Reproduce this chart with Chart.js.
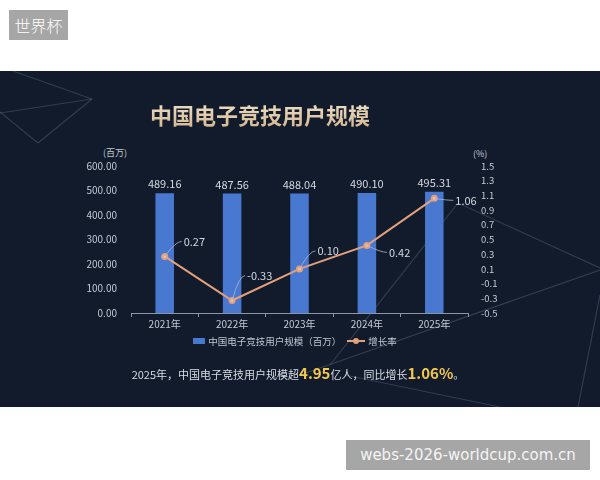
<!DOCTYPE html>
<html>
<head>
<meta charset="utf-8">
<script src="https://cdn.jsdelivr.net/npm/chart.js@4"></script>
<style>
  body { margin: 0; width: 600px; height: 480px; background: #fff; position: relative; overflow: hidden;
         font-family: "Noto Sans CJK SC", "Noto Sans", sans-serif; }
  .tag { position: absolute; left: 9px; top: 10px; width: 59px; height: 30px; background: #a6a6a6;
         color: #fff; font-size: 16px; line-height: 30px; text-align: center; font-weight: 300; }
  .panel { position: absolute; left: 0; top: 71px; width: 600px; height: 336px; background: #121b2c; }
  .deco { position: absolute; left: 0; top: 0; }
  .title { position: absolute; left: 0; width: 520px; top: 98px; text-align: center; font-size: 22px; font-weight: bold;
           background: linear-gradient(180deg, #f3e6cf 0%, #d2b48c 100%); -webkit-background-clip: text;
           background-clip: text; color: transparent; }
  .unit { position: absolute; font-size: 9px; color: #c4cad4; }
  #chart { position: absolute; left: 0; top: 140px; }
  .legend { position: absolute; left: 0; width: 590px; top: 333px; text-align: center; font-size: 9.5px; color: #c0c6d0; }
  .legend span { display: inline-block; vertical-align: middle; }
  .lg-bar { width: 12px; height: 6px; background: #4878cf; margin-right: 3px; }
  .lg-line { width: 18px; height: 2px; background: #e3a07c; position: relative; margin: 0 3px 0 6px; }
  .lg-line::after { content: ""; position: absolute; left: 6px; top: -2px; width: 6px; height: 6px; border-radius: 3px; background: #e3a07c; }
  .caption { position: absolute; left: 0; width: 596px; top: 362px; text-align: center; font-size: 11px; color: #d8dce4; }
  .caption b { color: #f2c94c; font-size: 15px; }
  .mark { position: absolute; left: 346px; top: 440px; width: 244px; height: 30px; background: #a6a6a6;
          color: #f4f4f4; font-family: "DejaVu Sans", sans-serif; font-size: 15px; line-height: 30px; text-align: center; }
</style>
</head>
<body>
<div class="tag">世界杯</div>
<div class="panel"></div>
<svg class="deco" width="600" height="480">
  <g stroke="rgba(120,135,160,0.3)" stroke-width="1.2" fill="none">
    <line x1="13" y1="71" x2="92" y2="99"/>
    <line x1="0" y1="113" x2="92" y2="99"/>
    <line x1="92" y1="99" x2="38" y2="143"/>
    <line x1="38" y1="143" x2="0" y2="112"/>
    <line x1="330" y1="365" x2="458" y2="203"/>
    <line x1="458" y1="203" x2="600" y2="268"/>
    <line x1="300" y1="375" x2="600" y2="270"/>
    <line x1="345" y1="375" x2="500" y2="407"/>
    <line x1="600" y1="295" x2="578" y2="407"/>
  </g>
</svg>
<div class="title">中国电子竞技用户规模</div>
<div class="unit" style="left:103px; top:146px;">(百万)</div>
<div class="unit" style="left:473px; top:147px;">(%)</div>
<canvas id="chart" width="600" height="200"></canvas>
<div class="legend"><span class="lg-bar"></span><span>中国电子竞技用户规模（百万）</span><span class="lg-line"></span><span>增长率</span></div>
<div class="caption">2025年，中国电子竞技用户规模超<b>4.95</b>亿人，同比增长<b>1.06%</b>。</div>
<div class="mark">webs-2026-worldcup.com.cn</div>

<script>
// dados do gráfico
const years = ['2021年', '2022年', '2023年', '2024年', '2025年'];
const users = [489.16, 487.56, 488.04, 490.10, 495.31];
const growth = [0.27, -0.33, 0.10, 0.42, 1.06];

// deslocamento dos rótulos da linha (estilo)
const growthLabelShift = [[19, -15], [15, -25], [18, -18], [22, 7], [21, 2]];

const tickColor = '#c4cad4';
const tickFont = { family: '"Noto Sans CJK SC", sans-serif', size: 10 };

// plugin para desenhar os rótulos
const valueLabels = {
  id: 'valueLabels',
  afterDatasetsDraw(chart) {
    const ctx = chart.ctx;
    ctx.save();
    ctx.font = '11px "Noto Sans CJK SC", sans-serif';
    ctx.fillStyle = '#d4d8e0';
    ctx.textAlign = 'center';
    ctx.textBaseline = 'middle';
    chart.getDatasetMeta(0).data.forEach((el, i) => {
      ctx.fillText(users[i].toFixed(2), el.x, el.y - 9);
    });

    ctx.textAlign = 'left';
    chart.getDatasetMeta(1).data.forEach((el, i) => {
      const lx = el.x + growthLabelShift[i][0];
      const ly = el.y + growthLabelShift[i][1];
      ctx.strokeStyle = 'rgba(165,185,215,0.8)';
      ctx.lineWidth = 1;
      ctx.beginPath();
      ctx.moveTo(el.x, el.y);
      ctx.quadraticCurveTo(lx - 8, ly, lx - 2, ly);
      ctx.stroke();
      ctx.fillStyle = '#d4d8e0';
      ctx.fillText(growth[i].toFixed(2), lx, ly);
    });
    ctx.restore();
  }
};

new Chart(document.getElementById('chart'), {
  type: 'bar',
  data: {
    labels: years,
    datasets: [
      {
        label: '中国电子竞技用户规模（百万）',
        data: users,
        backgroundColor: '#4878cf',
        barPercentage: 0.275,
        categoryPercentage: 1,
        yAxisID: 'y',
        order: 2
      },
      {
        type: 'line',
        label: '增长率',
        data: growth,
        borderColor: '#e3a07c',
        backgroundColor: '#f0c0a8',
        borderWidth: 2,
        pointRadius: 2.5,
        pointBorderColor: '#e3a07c',
        pointBackgroundColor: '#f0c0a8',
        tension: 0,
        yAxisID: 'y1',
        order: 1
      }
    ]
  },
  options: {
    responsive: false,
    animation: false,
    devicePixelRatio: 1,
    layout: { padding: { top: 26, bottom: 0, left: 0, right: 0 } },
    plugins: { legend: { display: false }, tooltip: { enabled: false } },
    scales: {
      x: {
        grid: { display: true, drawOnChartArea: false, drawTicks: true, tickLength: 4, color: '#8c95a6', offset: true },
        border: { display: true, color: '#8c95a6' },
        ticks: { color: tickColor, font: tickFont, padding: 1 },
        afterFit: s => { s.height = 27; }
      },
      y: {
        position: 'left',
        min: 0,
        max: 600,
        grid: { display: false },
        border: { display: false },
        ticks: { stepSize: 100, autoSkip: false, color: tickColor, font: tickFont, padding: 6, callback: v => Number(v).toFixed(2) },
        afterFit: s => { s.width = 131; }
      },
      y1: {
        position: 'right',
        min: -0.5,
        max: 1.5,
        grid: { display: false },
        border: { display: false },
        ticks: { stepSize: 0.2, autoSkip: false, color: tickColor, font: { family: '"Noto Sans CJK SC", sans-serif', size: 9.5 }, padding: 5, callback: v => Number(v).toFixed(1) },
        afterFit: s => { s.width = 132; }
      }
    }
  },
  plugins: [valueLabels]
});
</script>
</body>
</html>
